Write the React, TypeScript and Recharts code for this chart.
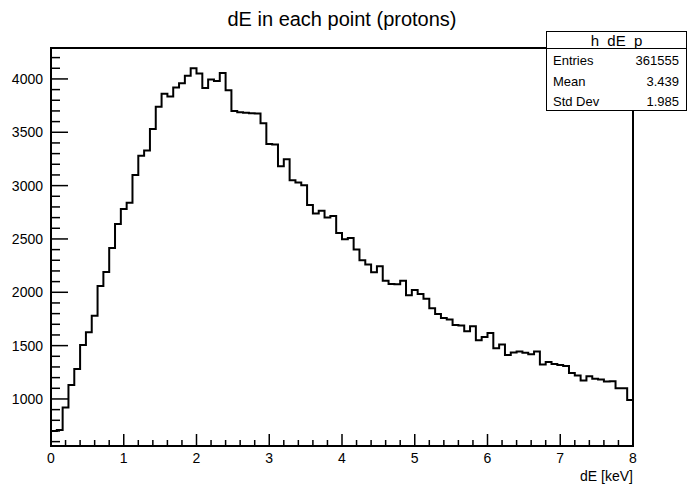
import React from "react";
import { LineChart, Line, XAxis, YAxis, ReferenceArea } from "recharts";

// ---- text ----
const chartTitle = "dE in each point (protons)";
const xAxisTitle = "dE [keV]";
const histName = "h_dE_p";
const statLabels = ["Entries", "Mean", "Std Dev"];
const statValues = ["361555", "3.439", "1.985"];

// ---- histogram: 100 bins from 0 to 8 keV ----
const binWidth = 0.08;
const binCounts = [
  700, 710, 920, 1130, 1280, 1505, 1625, 1780, 2060, 2190,
  2415, 2640, 2780, 2840, 3100, 3280, 3330, 3530, 3740, 3860,
  3835, 3920, 3960, 4030, 4100, 4050, 3915, 3995, 3980, 4055,
  3895, 3700, 3688, 3682, 3678, 3675, 3584, 3390, 3385, 3182,
  3248, 3050, 3030, 3004, 2819, 2738, 2764, 2700, 2714, 2556,
  2496, 2508, 2400, 2300, 2260, 2188, 2244, 2108, 2078, 2075,
  2108, 1972, 2022, 1985, 1940, 1850, 1797, 1760, 1745, 1694,
  1688, 1635, 1682, 1550, 1580, 1618, 1475, 1510, 1413, 1435,
  1444, 1432, 1419, 1444, 1322, 1347, 1328, 1319, 1308, 1244,
  1219, 1172, 1212, 1190, 1182, 1163, 1166, 1100, 1100, 991,
];
const binLowEdges = binCounts.map((_, i) => +(i * binWidth).toFixed(2));

// ---- axes ----
const xDomain = [0, 8];
const yDomain = [559, 4290];
const xTicks = [
  0, 0.2, 0.4, 0.6, 0.8, 1, 1.2, 1.4, 1.6, 1.8, 2, 2.2, 2.4, 2.6, 2.8, 3,
  3.2, 3.4, 3.6, 3.8, 4, 4.2, 4.4, 4.6, 4.8, 5, 5.2, 5.4, 5.6, 5.8, 6,
  6.2, 6.4, 6.6, 6.8, 7, 7.2, 7.4, 7.6, 7.8, 8,
];
const xMajorTicks = [0, 1, 2, 3, 4, 5, 6, 7, 8];
const yTicks = [
  600, 700, 800, 900, 1000, 1100, 1200, 1300, 1400, 1500, 1600, 1700, 1800,
  1900, 2000, 2100, 2200, 2300, 2400, 2500, 2600, 2700, 2800, 2900, 3000,
  3100, 3200, 3300, 3400, 3500, 3600, 3700, 3800, 3900, 4000, 4100, 4200,
];
const yMajorTicks = [1000, 1500, 2000, 2500, 3000, 3500, 4000];

const data = binCounts
  .map((v, i) => ({ x: binLowEdges[i], v }))
  .concat([{ x: xDomain[1], v: binCounts[binCounts.length - 1] }]);

// ---- layout ----
const W = 688;
const H = 486;
const PL = 51;
const PR = 633;
const PT = 48;
const PB = 446;
const FONT = "'Liberation Sans', Arial, Helvetica, sans-serif";

function XTick(props: any) {
  const { x, payload } = props;
  const val = payload.value;
  const major = xMajorTicks.some((m) => Math.abs(m - val) < 1e-6);
  const len = major ? 12 : 6;
  return (
    <g>
      <line x1={x} x2={x} y1={PB} y2={PB - len} stroke="#000" strokeWidth={1.5} />
      {major && (
        <text x={x} y={PB + 17} textAnchor="middle" fontSize={14} fontFamily={FONT} fill="#000">
          {String(val)}
        </text>
      )}
    </g>
  );
}

function YTick(props: any) {
  const { y, payload } = props;
  const val = payload.value;
  const major = yMajorTicks.includes(val);
  const len = major ? 17 : 9;
  return (
    <g>
      <line x1={PL} x2={PL + len} y1={y} y2={y} stroke="#000" strokeWidth={1.5} />
      {major && (
        <text x={PL - 8} y={y + 5} textAnchor="end" fontSize={14} fontFamily={FONT} fill="#000">
          {String(val)}
        </text>
      )}
    </g>
  );
}

export default function App() {
  return (
    <div
      style={{
        position: "absolute",
        left: 0,
        top: 0,
        width: W,
        height: H,
        background: "#fff",
        fontFamily: FONT,
      }}
    >
      <LineChart
        width={W}
        height={H}
        data={data}
        margin={{ top: PT, right: W - PR, bottom: H - PB - 1, left: PL - 1 }}
      >
        <XAxis
          dataKey="x"
          type="number"
          domain={xDomain}
          ticks={xTicks}
          interval={0}
          height={1}
          tickSize={2}
          tickLine={false}
          axisLine={false}
          tick={(p: any) => <XTick {...p} />}
          allowDataOverflow
        />
        <YAxis
          type="number"
          domain={yDomain}
          ticks={yTicks}
          interval={0}
          width={1}
          tickSize={2}
          tickLine={false}
          axisLine={false}
          tick={(p: any) => <YTick {...p} />}
          allowDataOverflow
        />
        <ReferenceArea
          x1={xDomain[0]}
          x2={xDomain[1]}
          y1={yDomain[0]}
          y2={yDomain[1]}
          fill="none"
          fillOpacity={0}
          stroke="#000"
          strokeWidth={2}
        />
        <Line
          dataKey="v"
          type="stepAfter"
          stroke="#000"
          strokeWidth={2}
          dot={false}
          activeDot={false}
          isAnimationActive={false}
        />
      </LineChart>

      {/* title */}
      <div
        style={{
          position: "absolute",
          left: 0,
          width: 684,
          top: 8,
          textAlign: "center",
          fontSize: 20,
          lineHeight: "22px",
          color: "#000",
        }}
      >
        {chartTitle}
      </div>

      {/* x axis title */}
      <div
        style={{
          position: "absolute",
          right: W - PR,
          top: 468,
          fontSize: 14,
          lineHeight: "16px",
          color: "#000",
          whiteSpace: "nowrap",
        }}
      >
        {xAxisTitle}
      </div>

      {/* stats box */}
      <div
        style={{
          position: "absolute",
          left: 546,
          top: 31,
          width: 139,
          height: 78,
          border: "1.5px solid #000",
          background: "#fff",
          color: "#000",
        }}
      >
        <div
          style={{
            height: 16,
            borderBottom: "1.5px solid #000",
            textAlign: "center",
            fontSize: 15,
            lineHeight: "18px",
            overflow: "hidden",
          }}
        >
          {histName}
        </div>
        {statLabels.map((lab, i) => (
          <div
            key={lab}
            style={{
              position: "absolute",
              left: 6,
              right: 7,
              top: 19 + i * 20.5,
              height: 20,
              fontSize: 13,
              lineHeight: "20px",
              display: "flex",
              justifyContent: "space-between",
            }}
          >
            <span>{lab}</span>
            <span>{statValues[i]}</span>
          </div>
        ))}
      </div>
    </div>
  );
}
